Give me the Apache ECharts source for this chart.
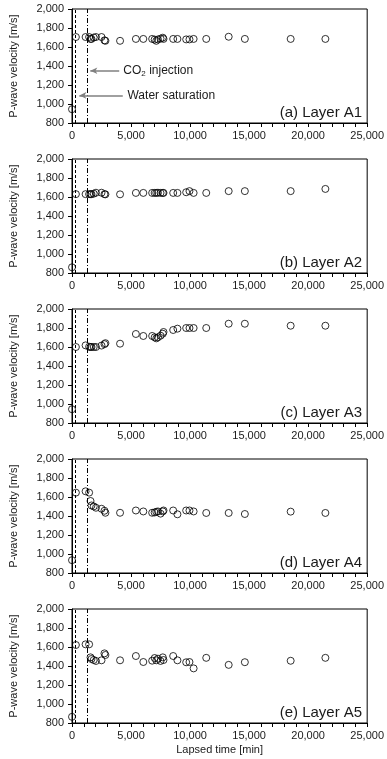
<!DOCTYPE html>
<html>
<head>
<meta charset="utf-8">
<script src="https://cdn.jsdelivr.net/npm/echarts@6/dist/echarts.min.js"></script>
<style>
  html, body { margin: 0; padding: 0; background: #fff; }
  #chart { width: 387px; height: 759px; }
</style>
</head>
<body>
<div id="chart"></div>
<script>
// Lapsed time of each P-wave measurement [min]
const lapsedTime = [0, 330, 1150, 1450, 1570, 1650, 1840, 2030, 2500, 2750, 2830, 4070, 5410, 6040, 6790, 7000, 7140, 7280, 7500, 7690, 7750, 8570, 8930, 9670, 9950, 10300, 11370, 13270, 14640, 18520, 21460];

// P-wave velocity per layer [m/s]
const layerA1 = [945, 1705, 1705, 1705, 1685, 1685, 1700, 1705, 1705, 1670, 1665, 1665, 1685, 1685, 1685, 1678, 1665, 1680, 1688, 1698, 1685, 1685, 1685, 1680, 1680, 1685, 1685, 1708, 1685, 1685, 1685];
const layerA2 = [860, 1630, 1630, 1630, 1630, 1630, 1635, 1645, 1645, 1630, 1628, 1628, 1643, 1643, 1643, 1643, 1643, 1645, 1643, 1643, 1643, 1643, 1643, 1650, 1662, 1643, 1643, 1662, 1662, 1662, 1685];
const layerA3 = [945, 1600, 1617, 1603, 1600, 1600, 1600, 1600, 1615, 1630, 1640, 1635, 1737, 1716, 1716, 1702, 1691, 1702, 1719, 1740, 1758, 1779, 1793, 1800, 1800, 1800, 1800, 1845, 1845, 1824, 1824];
const layerA4 = [935, 1646, 1660, 1646, 1558, 1511, 1501, 1487, 1476, 1455, 1434, 1434, 1458, 1448, 1434, 1437, 1444, 1448, 1425, 1448, 1458, 1458, 1418, 1458, 1458, 1448, 1432, 1432, 1421, 1446, 1432];
const layerA5 = [865, 1621, 1628, 1628, 1491, 1474, 1463, 1453, 1460, 1533, 1516, 1460, 1505, 1442, 1456, 1484, 1460, 1477, 1453, 1491, 1463, 1505, 1460, 1439, 1442, 1375, 1486, 1412, 1440, 1455, 1486];

const layers = [layerA1, layerA2, layerA3, layerA4, layerA5];
const panelLabels = ['(a) Layer A1', '(b) Layer A2', '(c) Layer A3', '(d) Layer A4', '(e) Layer A5'];

// Event times [min]
const waterSaturationTime = 280;
const co2InjectionTime = 1300;

// Axis ranges
const timeMin = 0, timeMax = 25000, timeStep = 5000;
const velMin = 800, velMax = 2000, velStep = 200;

const FONT = '"Liberation Sans", Arial, Helvetica, sans-serif';
const TEXT = '#1a1a1a';

const chart = echarts.init(document.getElementById('chart'), null, { renderer: 'canvas' });

const fmt = v => Number(v).toLocaleString('en-US');

const grids = [], xAxes = [], yAxes = [], series = [];
const panelTop = 9, panelStep = 150, panelHeight = 114;

layers.forEach((vals, i) => {
  grids.push({
    left: 68, right: 15, top: panelTop + panelStep * i, height: panelHeight,
    show: true, borderColor: '#000', borderWidth: 1, backgroundColor: 'transparent'
  });
  xAxes.push({
    type: 'value', gridIndex: i, min: timeMin, max: timeMax, interval: timeStep,
    name: i === layers.length - 1 ? 'Lapsed time [min]' : '',
    nameLocation: 'middle', nameGap: 21,
    nameTextStyle: { fontFamily: FONT, fontSize: 11, color: TEXT },
    axisLine: { show: true, lineStyle: { color: '#000', width: 1 } },
    axisTick: { show: true, inside: false, length: 4, lineStyle: { color: '#000' } },
    minorTick: { show: true, splitNumber: 5, length: 4, lineStyle: { color: '#000' } },
    splitLine: { show: false },
    axisLabel: { fontFamily: FONT, fontSize: 11, color: TEXT, margin: 7, formatter: fmt, showMaxLabel: true }
  });
  yAxes.push({
    type: 'value', gridIndex: i, min: velMin, max: velMax, interval: velStep,
    name: 'P-wave velocity [m/s]', nameLocation: 'middle', nameGap: 53, nameRotate: 90,
    nameTextStyle: { fontFamily: FONT, fontSize: 11, color: TEXT },
    axisLine: { show: true, lineStyle: { color: '#000', width: 1 } },
    axisTick: { show: true, inside: false, length: 4, lineStyle: { color: '#000' } },
    splitLine: { show: false },
    axisLabel: { fontFamily: FONT, fontSize: 11, color: TEXT, margin: 8, formatter: fmt }
  });

  const markData = [
    { xAxis: waterSaturationTime, lineStyle: { type: [3, 2], color: '#000', width: 1 } },
    { xAxis: co2InjectionTime, lineStyle: { type: [5, 2, 1, 2], color: '#000', width: 1 } }
  ];
  if (i === 0) {
    // Annotation arrows pointing at the event lines
    markData.push([
      { coord: [4000, 1350], symbol: 'none' },
      { coord: [1550, 1350], symbol: 'arrow', symbolSize: [5, 7] }
    ]);
    markData.push([
      { coord: [4300, 1090], symbol: 'none' },
      { coord: [620, 1090], symbol: 'arrow', symbolSize: [5, 7] }
    ]);
  }

  series.push({
    type: 'scatter', xAxisIndex: i, yAxisIndex: i,
    data: lapsedTime.map((t, k) => [t, vals[k]]),
    symbol: 'circle', symbolSize: 7,
    itemStyle: { color: 'rgba(0,0,0,0)', borderColor: '#000', borderWidth: 1 },
    markLine: {
      silent: true, symbol: 'none', animation: false,
      label: { show: false },
      lineStyle: { color: '#808080', width: 1.5, type: 'solid' },
      data: markData
    }
  });
});

chart.setOption({
  animation: false,
  backgroundColor: '#fff',
  textStyle: { fontFamily: FONT },
  grid: grids, xAxis: xAxes, yAxis: yAxes, series: series
});

// Panel captions and event annotations, positioned through the axes
const graphics = [];
layers.forEach((vals, i) => {
  const p = chart.convertToPixel({ gridIndex: i }, [timeMax, velMin]);
  graphics.push({
    type: 'text', x: p[0] - 5, y: p[1] - 3, silent: true,
    style: { text: panelLabels[i], fontFamily: FONT, fontSize: 15, fill: TEXT, align: 'right', verticalAlign: 'bottom' }
  });
});
const co2Pos = chart.convertToPixel({ gridIndex: 0 }, [4350, 1350]);
graphics.push({
  type: 'text', x: co2Pos[0], y: co2Pos[1], silent: true,
  style: {
    text: 'CO{sub|2} injection', fontFamily: FONT, fontSize: 12, fill: TEXT, align: 'left', verticalAlign: 'middle',
    rich: { sub: { fontFamily: FONT, fontSize: 8, fill: TEXT, verticalAlign: 'bottom', padding: [6, 0, 0, 0] } }
  }
});
const waterPos = chart.convertToPixel({ gridIndex: 0 }, [4700, 1090]);
graphics.push({
  type: 'text', x: waterPos[0], y: waterPos[1], silent: true,
  style: { text: 'Water saturation', fontFamily: FONT, fontSize: 12, fill: TEXT, align: 'left', verticalAlign: 'middle' }
});
chart.setOption({ graphic: graphics });
</script>
</body>
</html>
